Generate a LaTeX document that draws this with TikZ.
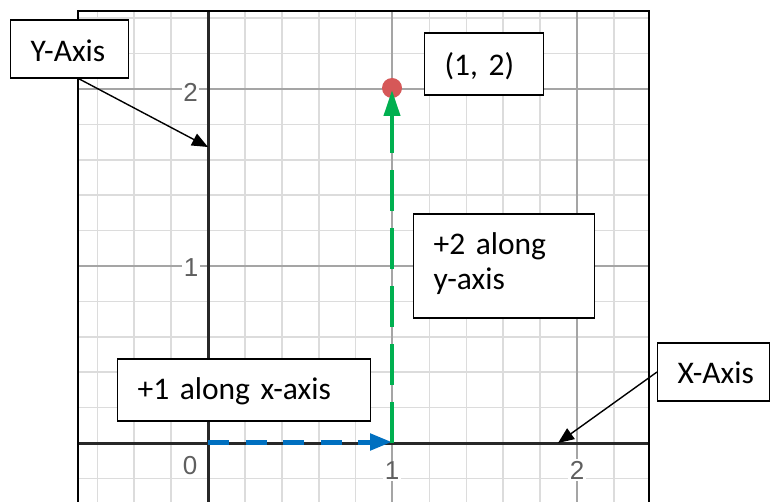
\documentclass[tikz,border=0pt]{standalone}
\usepackage{fontspec}
\setmainfont{Carlito}
\newfontfamily\tickfont{Liberation Sans}
\usetikzlibrary{arrows.meta}
\definecolor{gridminor}{RGB}{220,220,220}
\definecolor{gridmajor}{RGB}{165,165,165}
\definecolor{axisdark}{RGB}{40,40,40}
\definecolor{xgreen}{RGB}{0,176,80}
\definecolor{xblue}{RGB}{0,112,192}
\definecolor{dotred}{RGB}{214,88,88}
\definecolor{ticktext}{RGB}{95,95,95}
\begin{document}
\begin{tikzpicture}[x=1pt,y=-1pt,
  callout/.style={draw=black, line width=1.3pt, fill=white, inner ysep=0pt, inner xsep=20pt,
    align=left, anchor=base west, font=\fontsize{31.5}{35}\selectfont},
  ticklab/.style={fill=white, inner sep=1.5pt, text=ticktext, font=\tickfont\fontsize{26}{26}\selectfont},
  pointer/.style={draw=black, line width=1.4pt, -{Triangle[length=16pt,width=13pt]}},
  minorline/.style={gridminor, line width=1.6pt},
  majorline/.style={gridmajor, line width=1.8pt},
]
\useasboundingbox (0,0) rectangle (770,502);
\fill[white] (0,0) rectangle (770,502);
% grid
\begin{scope}
\clip (78,11) rectangle (649,502);
\foreach \i in {-3,...,12} { \draw[minorline] ({208+\i*36.9},0) -- ({208+\i*36.9},502); }
\foreach \j in {-1,...,13} { \draw[minorline] (0,{443-\j*35.4}) -- (770,{443-\j*35.4}); }
\draw[majorline] (392,0) -- (392,502);
\draw[majorline] (577,0) -- (577,502);
\draw[majorline] (0,266) -- (770,266);
\draw[majorline] (0,89) -- (770,89);
\end{scope}
% axes and frame
\draw[axisdark, line width=3pt] (208,11) -- (208,502);
\draw[axisdark, line width=3pt] (78,443) -- (649,443);
\draw[black, line width=2pt] (78,502) -- (78,11) -- (649,11) -- (649,502);
% tick labels
\node[ticklab] (t0) at (190,466) {0};
\node[ticklab] (tx1) at (392,471) {1};
\node[ticklab] (tx2) at (577,470) {2};
\node[ticklab] (ty1) at (191,268) {1};
\node[ticklab] (ty2) at (190.5,92) {2};
% point
\node[circle, fill=dotred, minimum size=20pt, inner sep=0pt] (pt) at (392,88) {};
% vectors
\coordinate (origin) at (208,442);
\coordinate (onex) at (392,442);
\coordinate (onexg) at (392,443);
\coordinate (pttip) at (392,90);
\draw[xblue, line width=5pt, dash pattern=on 21pt off 16.5pt, -{Triangle[length=22pt,width=16pt]}] (origin) -- (onex);
\draw[xgreen, line width=4pt, dash pattern=on 41pt off 17pt, -{Triangle[length=26pt,width=16pt]}] (onexg) -- (pttip);
% callout boxes
\node[callout, text width=78pt, text height=42pt, text depth=16pt] (ylab) at (10,62) {\mbox{Y-Axis}};
\node[callout, text width=79pt, text height=43pt, text depth=19pt] (plab) at (424,76) {\mbox{(1, 2)}};
\node[callout, text width=141pt, text height=41pt, text depth=63pt] (ytext) at (413,255) {+2 along\\y-axis};
\node[callout, text width=213pt, text height=40pt, text depth=22pt] (xtext) at (117,399) {\mbox{+1 along x-axis}};
\node[callout, text width=72pt, text height=40pt, text depth=18pt] (xlab) at (657,383) {\mbox{X-Axis}};
% pointers
\coordinate (ytip) at (208,147);
\coordinate (xtip) at (558,443);
\draw[pointer] ([xshift=9pt]ylab.south) -- (ytip);
\draw[pointer] (xlab.west) -- (xtip);
\end{tikzpicture}
\end{document}
